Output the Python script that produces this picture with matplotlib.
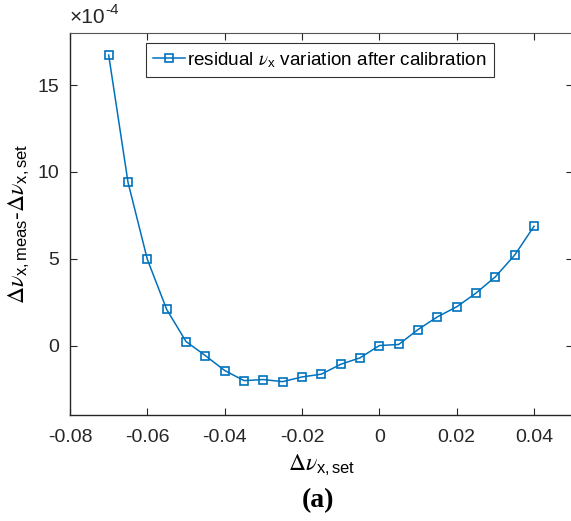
import matplotlib
matplotlib.use("Agg")
import matplotlib.pyplot as plt

# tune shift set vs residual (units of 1e-4)
dnu_set = [-0.07, -0.065, -0.06, -0.055, -0.05, -0.045, -0.04, -0.035, -0.03, -0.025,
           -0.02, -0.015, -0.01, -0.005, 0.0, 0.005, 0.01, 0.015, 0.02, 0.025,
           0.03, 0.035, 0.04]
residual = [16.73, 9.40, 4.96, 2.08, 0.23, -0.58, -1.44, -2.02, -1.96, -2.08,
            -1.81, -1.65, -1.08, -0.71, 0.0, 0.06, 0.92, 1.65, 2.23, 3.02,
            3.96, 5.21, 6.87]
xticks = [-0.08, -0.06, -0.04, -0.02, 0, 0.02, 0.04]
xticklabels = ["-0.08", "-0.06", "-0.04", "-0.02", "0", "0.02", "0.04"]
yticks = [0, 5, 10, 15]

plt.rcParams["font.family"] = ["Liberation Sans", "DejaVu Sans"]
plt.rcParams["mathtext.fontset"] = "custom"
plt.rcParams["mathtext.rm"] = "STIXGeneral"
plt.rcParams["mathtext.it"] = "STIXGeneral:italic"
plt.rcParams["mathtext.sf"] = "Liberation Sans"

fig = plt.figure(figsize=(5.71, 5.21), dpi=100)
ax = fig.add_axes([0.1226, 0.2035, 0.8804, 0.7332])

blue = "#0072BD"
ax.plot(dnu_set, residual, color=blue, lw=1.1, marker="s", ms=5.5,
        mfc="none", mec=blue, mew=1.2,
        label=r"residual $\nu_{\mathsf{x}}$ variation after calibration")

ax.set_xlim(-0.08, 0.05)
ax.set_ylim(-4, 18)
ax.set_xticks(xticks)
ax.set_xticklabels(xticklabels)
ax.set_yticks(yticks)
ax.tick_params(direction="in", top=True, right=True, labelsize=14, length=5,
               width=0.8, colors="#262626", pad=8)
ax.tick_params(axis="x", pad=10)
for s in ["left", "bottom"]:
    ax.spines[s].set_color("#262626")
    ax.spines[s].set_linewidth(1.0)
for s in ["top", "right"]:
    ax.spines[s].set_color("#555555")
    ax.spines[s].set_linewidth(0.8)

# offset label like MATLAB: x10^-4 with a plain hyphen
off = ax.text(0.0, 1.015, "\u00d710", transform=ax.transAxes,
              fontsize=15, ha="left", va="bottom", color="#262626")
ax.annotate("-4", xy=(1, 0.55), xycoords=off, fontsize=11,
            ha="left", va="bottom", color="#262626")

ax.set_xlabel(r"$\Delta\nu_{\mathsf{x,set}}$", fontsize=17, labelpad=5)
ax.set_ylabel(r"$\Delta\nu_{\mathsf{x,meas}}$-$\Delta\nu_{\mathsf{x,set}}$",
              fontsize=17, labelpad=4)

leg = ax.legend(loc="upper left", bbox_to_anchor=(0.151, 0.975), fontsize=13.6,
                frameon=True, fancybox=False, edgecolor="black",
                handlelength=1.65, handletextpad=0.15, borderpad=0.4,
                borderaxespad=0)
leg.get_frame().set_linewidth(0.8)

fig.text(0.557, 0.016, "(a)", fontsize=20, fontweight="bold",
         family="Liberation Serif", ha="center", va="bottom")

fig.savefig("out.png", dpi=100)
